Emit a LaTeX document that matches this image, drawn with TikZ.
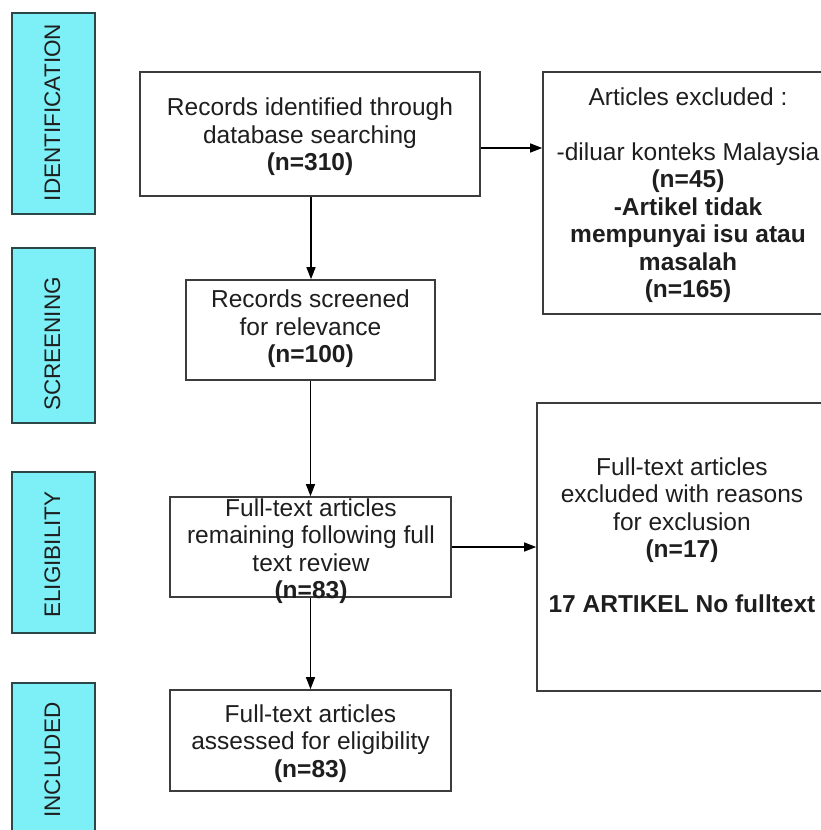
\documentclass[tikz,border=0pt]{standalone}
\usepackage{fontspec}
\setmainfont{Liberation Sans}
\usepackage{tikz}
\usetikzlibrary{positioning, arrows.meta, calc}

\definecolor{stagecyan}{RGB}{125,239,246}
\definecolor{stageedge}{RGB}{45,70,72}
\definecolor{boxgray}{RGB}{60,60,60}
\definecolor{inkgray}{RGB}{30,30,30}
\newcommand{\flowfont}{\fontsize{24.5}{27.5}\selectfont}
\newcommand{\stagefont}{\fontsize{22.5}{24}\selectfont}

\begin{document}
\begin{tikzpicture}[x=1pt, y=-1pt,
  flowbox/.style={draw=boxgray, line width=1.6pt, inner sep=0pt},
  flowtext/.style={font=\flowfont, align=center, text=inkgray, inner sep=0pt},
  stagebox/.style={draw=stageedge, line width=1.6pt, fill=stagecyan, minimum width=83pt, inner sep=0pt},
  stagetext/.style={font=\stagefont, rotate=90, text=inkgray, inner sep=0pt},
  flowarrow/.style={draw=black, line width=1.2pt, -{Triangle[length=12pt, width=9pt]}}]
  \useasboundingbox (0,0) rectangle (820,830);

  % stage column
  \node[stagebox, minimum height=201pt] (identbox) at (53.5,113.5) {};
  \node[stagebox, minimum height=175pt] (screenbox) at (53.5,335.5) {};
  \node[stagebox, minimum height=161pt] (eligbox) at (53.5,552.5) {};
  \node[stagebox, minimum height=167pt] (inclbox) at (53.5,766.5) {};
  \node[stagetext] (identlbl) at (52.5,112.5) {IDENTIFICATION};
  \node[stagetext] (screenlbl) at (52.5,344) {SCREENING};
  \node[stagetext] (eliglbl) at (52.5,554.5) {ELIGIBILITY};
  \node[stagetext] (incllbl) at (52.5,760) {INCLUDED};

  % flow boxes
  \node[flowbox, minimum width=340pt, minimum height=124pt] (records) at (310,134) {};
  \node[flowbox, minimum width=300pt, minimum height=242pt] (excluded) at (693,193) {};
  \node[flowbox, minimum width=249pt, minimum height=100pt] (screened) at (310.5,330) {};
  \node[flowbox, minimum width=281pt, minimum height=100pt] (fulltext) at (310.5,547) {};
  \node[flowbox, minimum width=300pt, minimum height=288pt] (fullexcl) at (687,547) {};
  \node[flowbox, minimum width=281pt, minimum height=101pt] (assessed) at (310.5,740.5) {};

  \node[flowtext] (recordstxt) at (310,137) {Records identified through\\database searching\\\textbf{(n=310)}};
  \node[flowtext] (excludedtxt) at (688,195) {Articles excluded :\\[27.5pt]-diluar konteks Malaysia\\\textbf{(n=45)}\\\textbf{-Artikel tidak}\\\textbf{mempunyai isu atau}\\\textbf{masalah}\\\textbf{(n=165)}};
  \node[flowtext] (screenedtxt) at (310.5,329) {Records screened\\for relevance\\\textbf{(n=100)}};
  \node[flowtext] (fulltexttxt) at (311,551) {Full-text articles\\remaining following full\\text review\\\textbf{(n=83)}};
  \node[flowtext] (fullexcltxt) at (682,535) {Full-text articles\\excluded with reasons\\for exclusion\\\textbf{(n=17)}\\[27.5pt]\textbf{17 ARTIKEL No fulltext}};
  \node[flowtext] (assessedtxt) at (310.5,743.5) {Full-text articles\\assessed for eligibility\\\textbf{(n=83)}};

  % connectors
  \draw[flowarrow] ([xshift=1pt]records.south) -- ([xshift=1pt]records.south |- screened.north);
  \draw[flowarrow] ([yshift=-14pt]records.east) -- ([yshift=-14pt]records.east -| excluded.west);
  \draw[flowarrow] (screened.south) -- (fulltext.north);
  \draw[flowarrow] (fulltext.east) -- (fulltext.east -| fullexcl.west);
  \draw[flowarrow] (fulltext.south) -- (assessed.north);
\end{tikzpicture}
\end{document}
